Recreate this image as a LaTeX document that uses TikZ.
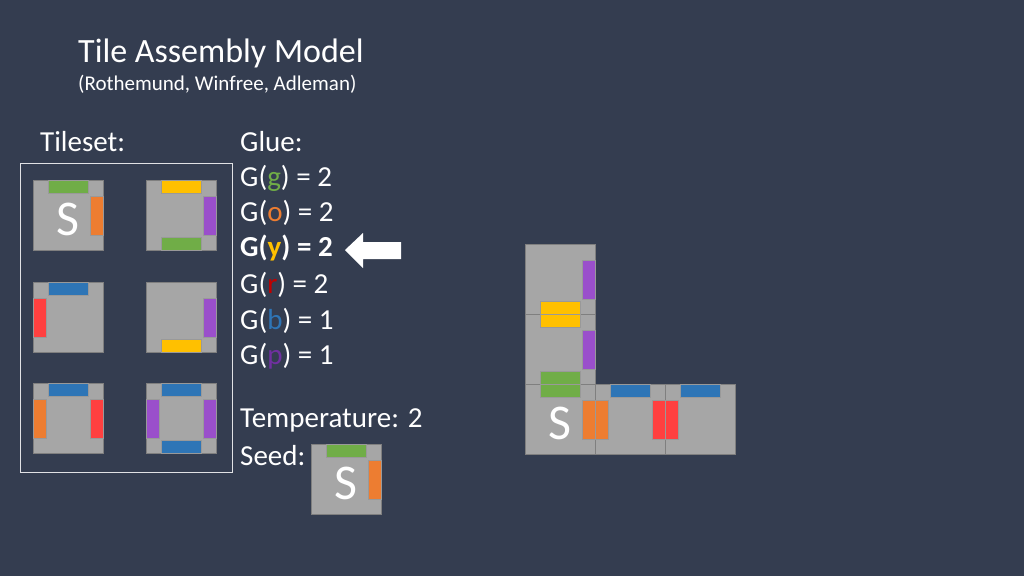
\documentclass[tikz,border=0pt]{standalone}
\usepackage{fontspec}
\setmainfont{Carlito}
\definecolor{bg}{RGB}{52,61,80}
\definecolor{tilegray}{RGB}{166,166,166}
\definecolor{tileedge}{RGB}{127,127,127}
\definecolor{cg}{RGB}{112,173,71}
\definecolor{co}{RGB}{237,125,49}
\definecolor{cy}{RGB}{255,192,0}
\definecolor{cr}{RGB}{255,64,64}
\definecolor{cb}{RGB}{46,117,182}
\definecolor{cp}{RGB}{154,79,203}
\definecolor{tr}{RGB}{192,0,0}
\definecolor{tp}{RGB}{112,48,160}
\newcommand\gT[1]{\draw[glue,fill=#1] (15,0) rectangle (55,13);}
\newcommand\gR[1]{\draw[glue,fill=#1] (57,16) rectangle (70,55);}
\newcommand\gB[1]{\draw[glue,fill=#1] (15,57) rectangle (55,70);}
\newcommand\gL[1]{\draw[glue,fill=#1] (0,16) rectangle (13,55);}
\newcommand\tilebg{\draw[tilebox] (0,0) rectangle (70,70);}
\newcommand\sletter{\node[text=white,font=\fontsize{50}{50}\selectfont] at (35,39) {S};}
\begin{document}
\begin{tikzpicture}[x=1pt,y=-1pt,
  glue/.style={draw=black!40,line width=0.6pt},
  tilebox/.style={draw=tileedge,fill=tilegray,line width=1pt},
  txt/.style={text=white,anchor=west,inner sep=0pt},
  gl/.style={txt,font=\fontsize{29}{29}\selectfont}]
\fill[bg] (0,0) rectangle (1024,576);
\useasboundingbox (0,0) rectangle (1024,576);
\node[txt,font=\fontsize{34}{34}\selectfont] (title) at (78,53) {Tile Assembly Model};
\node[txt,font=\fontsize{21}{21}\selectfont] (sub) at (78,84) {(Rothemund, Winfree, Adleman)};
\node[gl] (ts) at (40,142) {Tileset:};
\node[gl] (g0) at (240,142) {Glue:};
\node[gl] (g1) at (240,178) {G(\textcolor{cg}{g}) = 2};
\node[gl] (g2) at (240,213) {G(\textcolor{co}{o}) = 2};
\node[gl] (g3) at (240,248) {\bfseries G(\textcolor{cy}{y}) = 2};
\node[gl] (g4) at (240,285) {G(\textcolor{tr}{r}) = 2};
\node[gl] (g5) at (240,321) {G(\textcolor{cb}{b}) = 1};
\node[gl] (g6) at (240,356) {G(\textcolor{tp}{p}) = 1};
\node[gl] (temp) at (240,420) {Temperature: 2};
\node[gl] (seed) at (240,456) {Seed:};
\fill[white] (345,250) -- (363,233) -- (363,242) -- (401,242) -- (401,259) -- (363,259) -- (363,268) -- cycle;
\draw[white!85!bg,line width=1pt] (20,163) rectangle (232,472);
% tileset
\begin{scope}[shift={(33,180)}]\tilebg\gT{cg}\gR{co}\sletter\end{scope}
\begin{scope}[shift={(146,180)}]\tilebg\gT{cy}\gR{cp}\gB{cg}\end{scope}
\begin{scope}[shift={(33,282)}]\tilebg\gT{cb}\gL{cr}\end{scope}
\begin{scope}[shift={(146,282)}]\tilebg\gR{cp}\gB{cy}\end{scope}
\begin{scope}[shift={(33,383)}]\tilebg\gT{cb}\gL{co}\gR{cr}\end{scope}
\begin{scope}[shift={(146,383)}]\tilebg\gT{cb}\gL{cp}\gR{cp}\gB{cb}\end{scope}
% seed
\begin{scope}[shift={(311,444)}]\tilebg\gT{cg}\gR{co}\sletter\end{scope}
% assembly
\begin{scope}[shift={(525,244)}]\tilebg\gR{cp}\gB{cy}\end{scope}
\begin{scope}[shift={(525,314)}]\tilebg\gT{cy}\gR{cp}\gB{cg}\end{scope}
\begin{scope}[shift={(525,384)}]\tilebg\gT{cg}\gR{co}\sletter\end{scope}
\begin{scope}[shift={(595,384)}]\tilebg\gT{cb}\gL{co}\gR{cr}\end{scope}
\begin{scope}[shift={(665,384)}]\tilebg\gT{cb}\gL{cr}\end{scope}
\end{tikzpicture}
\end{document}
